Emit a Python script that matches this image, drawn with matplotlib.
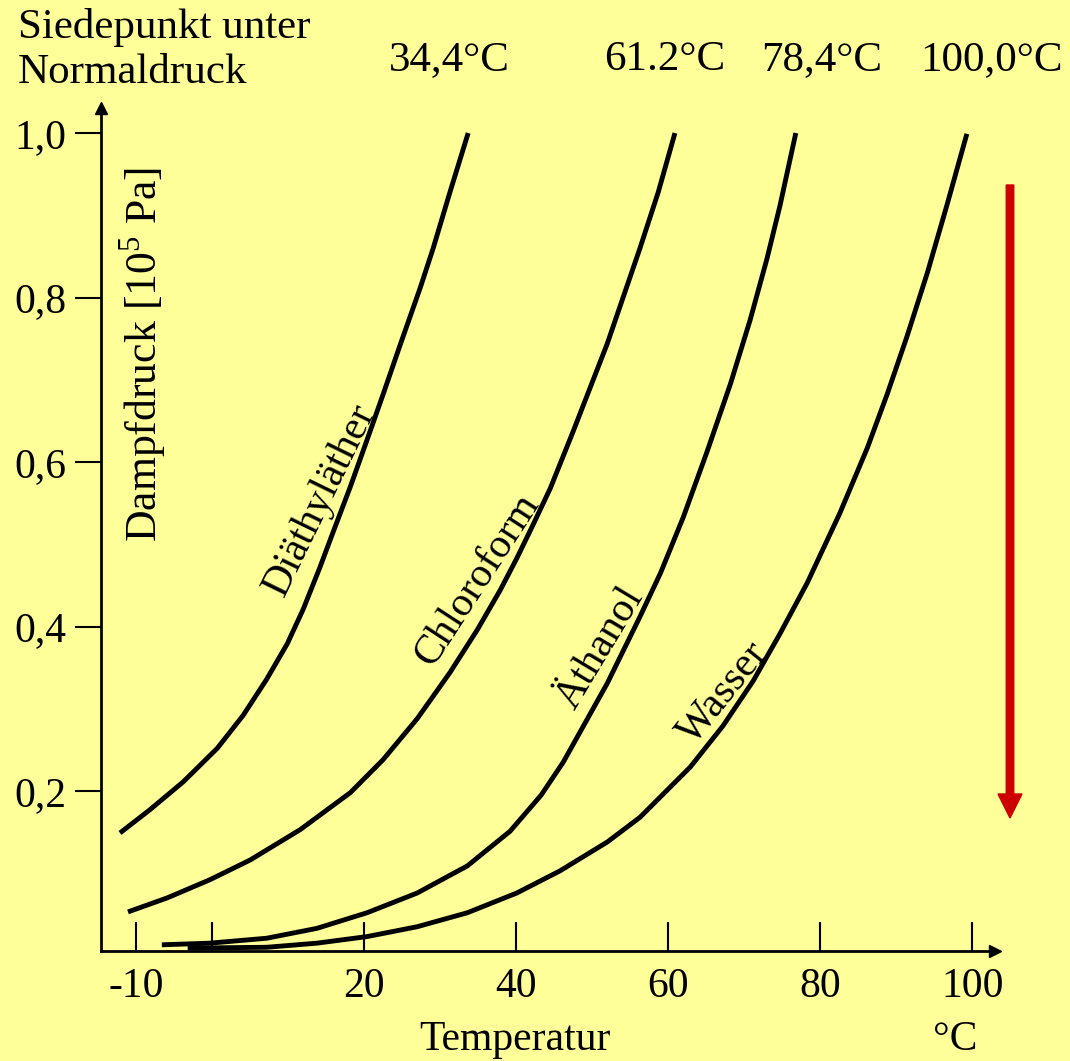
import matplotlib
matplotlib.use("Agg")
import matplotlib.pyplot as plt
from matplotlib.patches import FancyArrow

plt.rcParams['font.family'] = ['Liberation Serif', 'DejaVu Serif']
plt.rcParams['mathtext.fontset'] = 'custom'
plt.rcParams['mathtext.rm'] = 'Liberation Serif'

# vapour pressure curves (T in degC, p in 10^5 Pa)
ether_t = [-12.1, -8.2, -3.8, 0.7, 4.1, 7.2, 9.9, 12.0, 14.2, 15.9, 18.2, 20.4, 22.5, 24.7, 27.4, 29.1, 31.3, 33.7]
ether_p = [0.149, 0.177, 0.211, 0.252, 0.292, 0.336, 0.379, 0.421, 0.472, 0.514, 0.570, 0.627, 0.682, 0.741, 0.812, 0.860, 0.928, 1.000]

chloro_t = [-11.05, -5.9, -0.3, 5.0, 11.6, 18.2, 22.5, 27.0, 31.3, 34.9, 37.9, 40.1, 42.2, 44.5, 47.5, 52.0, 56.3, 58.7, 60.9]
chloro_p = [0.053, 0.070, 0.092, 0.116, 0.153, 0.198, 0.238, 0.288, 0.344, 0.396, 0.444, 0.483, 0.523, 0.568, 0.637, 0.744, 0.860, 0.928, 1.000]

ethanol_t = [-6.6, -0.3, 7.2, 13.8, 20.4, 27.0, 33.6, 39.2, 43.3, 46.2, 52.0, 56.3, 59.0, 62.0, 65.1, 68.2, 70.8, 73.0, 74.7, 76.8]
ethanol_p = [0.013, 0.015, 0.021, 0.033, 0.052, 0.076, 0.109, 0.151, 0.195, 0.235, 0.331, 0.412, 0.465, 0.533, 0.612, 0.695, 0.773, 0.847, 0.911, 1.000]

water_t = [-3.2, 7.2, 13.8, 20.4, 27.0, 33.6, 40.1, 45.8, 52.0, 56.3, 62.9, 67.2, 71.2, 74.7, 78.3, 82.6, 86.2, 88.8, 91.4, 94.1, 96.7, 99.3]
water_p = [0.009, 0.010, 0.015, 0.023, 0.035, 0.052, 0.076, 0.103, 0.138, 0.168, 0.229, 0.279, 0.334, 0.391, 0.453, 0.538, 0.617, 0.682, 0.752, 0.830, 0.913, 0.999]

names = ['Diäthyläther', 'Chloroform', 'Äthanol', 'Wasser']
boiling = ['34,4°C', '61.2°C', '78,4°C', '100,0°C']

x_ticks = [-10, 0, 20, 40, 60, 80, 100]
x_ticklabels = ['-10', '', '20', '40', '60', '80', '100']
y_ticks = [0.2, 0.4, 0.6, 0.8, 1.0]
y_ticklabels = ['0,2', '0,4', '0,6', '0,8', '1,0']

bg = '#FFFF99'
fs = 30

fig = plt.figure(figsize=(10.7, 10.61), dpi=100, facecolor=bg)
ax = fig.add_axes([0.0944, 0.1037, 0.8355, 0.7945])
ax.set_facecolor(bg)

for t, p in [(ether_t, ether_p), (chloro_t, chloro_p), (ethanol_t, ethanol_p), (water_t, water_p)]:
    ax.plot(t, p, color='black', lw=3.5, solid_capstyle='butt', solid_joinstyle='round', clip_on=False)

ax.set_xlim(-14.6, 103.0)
ax.set_ylim(0.0055, 1.0304)

ax.spines['top'].set_visible(False)
ax.spines['right'].set_visible(False)
ax.spines['left'].set_linewidth(2)
ax.spines['bottom'].set_linewidth(2)

# axis arrow heads
ax.plot(1, 0, '>k', markersize=9, transform=ax.transAxes, clip_on=False)
ax.plot(0, 1, '^k', markersize=9, transform=ax.transAxes, clip_on=False)

ax.set_xticks(x_ticks)
ax.set_xticklabels(x_ticklabels)
ax.set_yticks(y_ticks)
ax.set_yticklabels(y_ticklabels)
ax.tick_params(axis='x', direction='in', length=21, width=1.5, pad=12, labelsize=fs)
ax.tick_params(axis='y', direction='out', length=19, width=1.5, pad=6, labelsize=fs)

# curve labels
label_pos = [(14.2, 0.554, 64), (34.9, 0.457, 57), (51.1, 0.374, 59), (67.2, 0.319, 51)]
for name, (tx, ty, rot) in zip(names, label_pos):
    ax.text(tx, ty, name, rotation=rot, rotation_mode='anchor', ha='center', va='center', fontsize=fs)

ax.text(143 / 1070, 1 - 354 / 1061, r'Dampfdruck [10$^5$ Pa]', transform=fig.transFigure,
        rotation=90, ha='center', va='center', fontsize=31.5)

# header texts
fig.text(18 / 1070, 1 - 38 / 1061, 'Siedepunkt unter', fontsize=31, ha='left', va='baseline')
fig.text(18 / 1070, 1 - 83 / 1061, 'Normaldruck', fontsize=31, ha='left', va='baseline')
for txt, xc in zip(boiling, [449, 665, 822, 992]):
    fig.text(xc / 1070, 1 - 70 / 1061, txt, fontsize=31, ha='center', va='baseline')

fig.text(515 / 1070, 1 - 1050 / 1061, 'Temperatur', fontsize=fs, ha='center', va='baseline')
fig.text(955 / 1070, 1 - 1050 / 1061, '°C', fontsize=fs, ha='center', va='baseline')

# red arrow on the right
arr = FancyArrow(10.10, (1061 - 185) / 100, 0, -(818 - 185) / 100, width=0.075, head_width=0.24,
                 head_length=0.24, length_includes_head=True, color='#CC0000',
                 transform=fig.dpi_scale_trans)
fig.add_artist(arr)

fig.savefig('out.png', dpi=100, facecolor=bg)
